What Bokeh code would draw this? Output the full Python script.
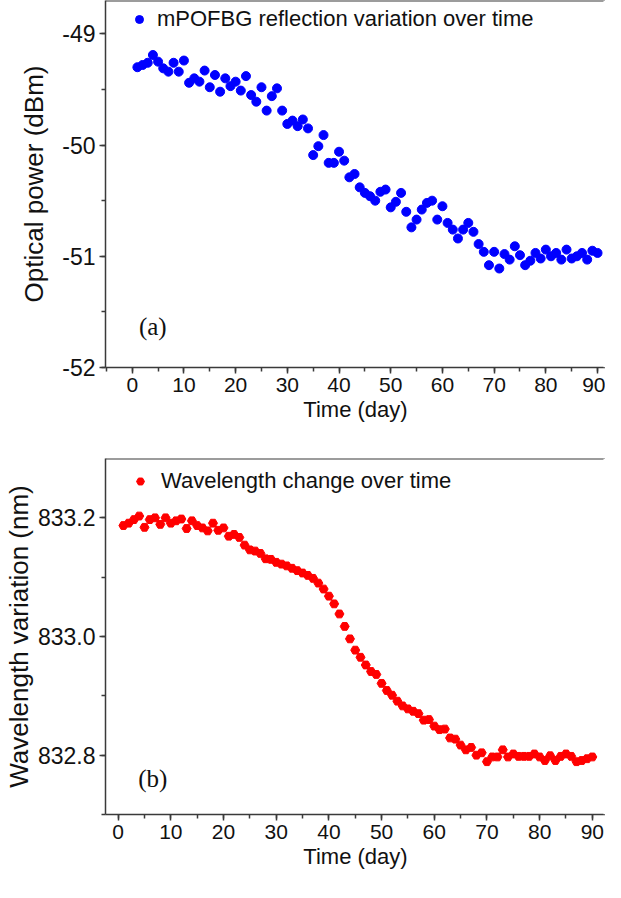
from bokeh.plotting import figure
from bokeh.layouts import column
from bokeh.models import (Range1d, SingleIntervalTicker, Legend, LegendItem,
                          Label, NumeralTickFormatter, Span)
from bokeh.embed import file_html
from bokeh.resources import INLINE

# ---------------- data ----------------
days_a = list(range(1, 91))
power_dbm = [
    -49.30, -49.28, -49.26, -49.19, -49.25, -49.31, -49.34, -49.26, -49.34, -49.24,
    -49.44, -49.40, -49.43, -49.33, -49.48, -49.37, -49.52, -49.40, -49.47, -49.43,
    -49.51, -49.38, -49.55, -49.61, -49.48, -49.69, -49.56, -49.49, -49.69, -49.81,
    -49.78, -49.83, -49.77, -49.85, -50.09, -50.01, -49.91, -50.16, -50.16, -50.06,
    -50.14, -50.29, -50.26, -50.38, -50.43, -50.46, -50.50, -50.42, -50.40, -50.56,
    -50.51, -50.43, -50.60, -50.74, -50.67, -50.58, -50.52, -50.50, -50.67, -50.55,
    -50.70, -50.76, -50.84, -50.76, -50.70, -50.78, -50.89, -50.96, -51.08, -50.96,
    -51.11, -50.98, -51.03, -50.91, -50.99, -51.08, -51.04, -50.97, -51.02, -50.94,
    -51.00, -50.97, -51.03, -50.94, -51.02, -51.00, -50.97, -51.03, -50.95, -50.97,
]

days_b = list(range(1, 91))
wavelength_nm = [
    833.187, 833.191, 833.197, 833.203, 833.184, 833.197, 833.200, 833.189, 833.200, 833.191,
    833.195, 833.198, 833.182, 833.195, 833.187, 833.183, 833.178, 833.191, 833.179, 833.183,
    833.169, 833.172, 833.167, 833.154, 833.146, 833.144, 833.140, 833.131, 833.130, 833.125,
    833.122, 833.119, 833.115, 833.111, 833.107, 833.103, 833.098, 833.090, 833.080, 833.068,
    833.055, 833.038, 833.017, 832.996, 832.977, 832.965, 832.952, 832.941, 832.936, 832.921,
    832.909, 832.901, 832.891, 832.883, 832.878, 832.874, 832.870, 832.859, 832.860, 832.849,
    832.843, 832.844, 832.829, 832.827, 832.817, 832.809, 832.813, 832.800, 832.804, 832.789,
    832.797, 832.797, 832.809, 832.797, 832.802, 832.798, 832.798, 832.798, 832.802, 832.797,
    832.791, 832.799, 832.791, 832.798, 832.802, 832.798, 832.789, 832.791, 832.794, 832.797,
]

legend_a = "mPOFBG reflection variation over time"
legend_b = "Wavelength change over time"
xlabel = "Time (day)"
ylabel_a = "Optical power (dBm)"
ylabel_b = "Wavelength variation (nm)"
panel_a = "(a)"
panel_b = "(b)"

FONT = "Liberation Sans"
AXC = "#3a3a3a"
XTICK_FS = "21px"
XTITLE_FS = "22px"
YTICK_FS = "23px"
YTITLE_FS = "26px"
LEG_FS = "22px"
FRAME_H1 = 367
FRAME_H2 = 356
BOTTOM = 68
TOP2 = 23
FIG_W = 605
XEND_A = 91.54
XEND_B = 92.5


def style(p, xt, yt, yfmt, ystandoff, ytop, xend):
    for ax in (p.xaxis[0], p.yaxis[0]):
        ax.axis_line_color = AXC
        ax.axis_line_width = 1.5
        ax.major_tick_line_color = AXC
        ax.major_tick_line_width = 1.5
        ax.minor_tick_line_color = AXC
        ax.minor_tick_line_width = 1.5
        ax.major_tick_in = 0
        ax.major_tick_out = 6
        ax.minor_tick_in = 0
        ax.minor_tick_out = 4
        ax.major_label_text_font = FONT
        ax.major_label_text_color = "#111111"
        ax.axis_label_text_font = FONT
        ax.axis_label_text_font_style = "normal"
        ax.axis_label_text_color = "#111111"
    p.xaxis[0].major_label_text_font_size = XTICK_FS
    p.xaxis[0].axis_label_text_font_size = XTITLE_FS
    p.yaxis[0].major_label_text_font_size = YTICK_FS
    p.yaxis[0].axis_label_text_font_size = YTITLE_FS
    p.xaxis[0].ticker = xt
    p.yaxis[0].ticker = yt
    p.yaxis[0].formatter = NumeralTickFormatter(format=yfmt)
    p.xaxis[0].major_label_standoff = 4
    p.xaxis[0].axis_label_standoff = 2
    p.yaxis[0].major_label_standoff = 4
    p.yaxis[0].axis_label_standoff = ystandoff
    p.xgrid.visible = False
    p.ygrid.visible = False
    p.outline_line_color = None
    p.outline_line_alpha = 0
    p.add_layout(Span(location=ytop, dimension="width", line_color=AXC, line_width=2))
    # the reference frame is open on the right side
    p.add_layout(Span(location=xend, dimension="height", line_color="white",
                      line_width=4, level="overlay"))


# ---------------- figure (a) ----------------
p1 = figure(width=FIG_W, height=FRAME_H1 + BOTTOM, output_backend="svg", toolbar_location=None,
            x_range=Range1d(-5.17, XEND_A), y_range=Range1d(-52.0, -48.70),
            min_border_left=100, min_border_right=0, min_border_top=0, min_border_bottom=BOTTOM,
            x_axis_label=xlabel, y_axis_label=ylabel_a)
r1 = p1.scatter(days_a, power_dbm, marker="circle", size=9, color="#0000ff")
style(p1, SingleIntervalTicker(interval=10, num_minor_ticks=2),
      SingleIntervalTicker(interval=1, num_minor_ticks=2), "0", 10, -48.70, XEND_A)
leg1 = Legend(items=[LegendItem(label=legend_a, renderers=[r1])],
              location=(24, FRAME_H1 - 8 - 24), padding=0, border_line_color=None,
              background_fill_alpha=0, glyph_width=20, glyph_height=24,
              label_height=24, label_standoff=8,
              label_text_font=FONT, label_text_font_size=LEG_FS,
              label_text_color="#111111")
p1.add_layout(leg1, "center")
p1.add_layout(Label(x=1.3, y=-51.63, text=panel_a, text_font="Liberation Serif",
                    text_font_size="25px", text_baseline="middle", text_color="#111111"))

# ---------------- figure (b) ----------------
p2 = figure(width=FIG_W, height=TOP2 + FRAME_H2 + BOTTOM, output_backend="svg", toolbar_location=None,
            x_range=Range1d(-2.4, XEND_B), y_range=Range1d(832.7, 833.3),
            min_border_left=102, min_border_right=0, min_border_top=TOP2, min_border_bottom=BOTTOM,
            x_axis_label=xlabel, y_axis_label=ylabel_b)
r2 = p2.scatter(days_b, wavelength_nm, marker="hex", size=9, color="#ff0000")
style(p2, SingleIntervalTicker(interval=10, num_minor_ticks=2),
      SingleIntervalTicker(interval=0.2, num_minor_ticks=2), "0.0", 1, 833.3, XEND_B)
leg2 = Legend(items=[LegendItem(label=legend_b, renderers=[r2])],
              location=(25, FRAME_H2 - 12 - 24), padding=0, border_line_color=None,
              background_fill_alpha=0, glyph_width=20, glyph_height=24,
              label_height=24, label_standoff=11,
              label_text_font=FONT, label_text_font_size=LEG_FS,
              label_text_color="#111111")
p2.add_layout(leg2, "center")
p2.add_layout(Label(x=3.8, y=832.76, text=panel_b, text_font="Liberation Serif",
                    text_font_size="25px", text_baseline="middle", text_color="#111111"))

layout = column(p1, p2, spacing=0)
open("out.html", "w").write(file_html(layout, INLINE))
